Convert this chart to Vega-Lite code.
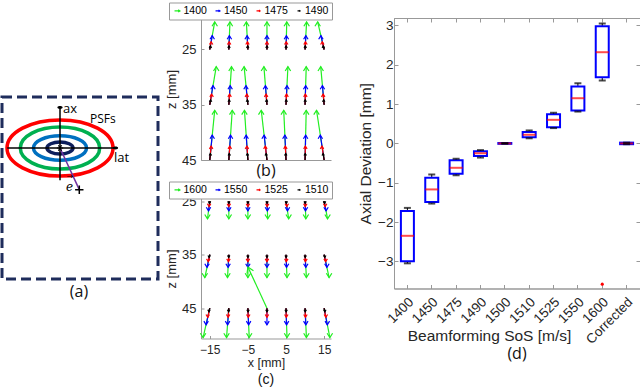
{
  "$schema": "https://vega.github.io/schema/vega-lite/v6.json",
  "padding": {"left": 0, "top": 2, "right": 0, "bottom": 0},
  "background": "white",
  "config": {
    "font": "Liberation Sans",
    "view": {"stroke": null},
    "axis": {"grid": false, "domainColor": "#999999", "tickColor": "#999999", "labelColor": "#262626", "titleColor": "#262626", "titleFontWeight": "normal", "labelFont": "Liberation Sans", "titleFont": "Liberation Sans"},
    "title": {"font": "Open Sans", "fontWeight": "normal", "color": "#111111"}
  },
  "datasets": {
    "vb": [
      {"s":"1400","x":-15,"z":25,"x2":-13.7,"z2":20.0},{"s":"1400","x":-10,"z":25,"x2":-9.7,"z2":20.0},{"s":"1400","x":-5,"z":25,"x2":-5.4,"z2":20.0},{"s":"1400","x":0,"z":25,"x2":0,"z2":20.0},{"s":"1400","x":5,"z":25,"x2":5.2,"z2":20.0},{"s":"1400","x":10,"z":25,"x2":10.4,"z2":20.0},{"s":"1400","x":15,"z":25,"x2":13.3,"z2":20.0},
      {"s":"1400","x":-15,"z":35,"x2":-13.3,"z2":28.1},{"s":"1400","x":-10,"z":35,"x2":-9.3,"z2":28.1},{"s":"1400","x":-5,"z":35,"x2":-6.0,"z2":28.1},{"s":"1400","x":0,"z":35,"x2":-0.8,"z2":28.1},{"s":"1400","x":5,"z":35,"x2":5.5,"z2":28.1},{"s":"1400","x":10,"z":35,"x2":10.3,"z2":28.1},{"s":"1400","x":15,"z":35,"x2":14.1,"z2":28.1},
      {"s":"1400","x":-15,"z":45,"x2":-13.7,"z2":36.0},{"s":"1400","x":-10,"z":45,"x2":-9.1,"z2":36.0},{"s":"1400","x":-5,"z":45,"x2":-5.9,"z2":36.0},{"s":"1400","x":0,"z":45,"x2":-1.5,"z2":36.0},{"s":"1400","x":5,"z":45,"x2":4.4,"z2":36.0},{"s":"1400","x":10,"z":45,"x2":10.3,"z2":36.0},{"s":"1400","x":15,"z":45,"x2":13.0,"z2":36.0},
      {"s":"1450","x":-15,"z":25,"x2":-14.35,"z2":22.5},{"s":"1450","x":-10,"z":25,"x2":-9.85,"z2":22.5},{"s":"1450","x":-5,"z":25,"x2":-5.2,"z2":22.5},{"s":"1450","x":0,"z":25,"x2":0,"z2":22.5},{"s":"1450","x":5,"z":25,"x2":5.1,"z2":22.5},{"s":"1450","x":10,"z":25,"x2":10.2,"z2":22.5},{"s":"1450","x":15,"z":25,"x2":14.15,"z2":22.5},
      {"s":"1450","x":-15,"z":35,"x2":-14.15,"z2":31.55},{"s":"1450","x":-10,"z":35,"x2":-9.65,"z2":31.55},{"s":"1450","x":-5,"z":35,"x2":-5.5,"z2":31.55},{"s":"1450","x":0,"z":35,"x2":-0.4,"z2":31.55},{"s":"1450","x":5,"z":35,"x2":5.25,"z2":31.55},{"s":"1450","x":10,"z":35,"x2":10.15,"z2":31.55},{"s":"1450","x":15,"z":35,"x2":14.55,"z2":31.55},
      {"s":"1450","x":-15,"z":45,"x2":-14.35,"z2":40.5},{"s":"1450","x":-10,"z":45,"x2":-9.55,"z2":40.5},{"s":"1450","x":-5,"z":45,"x2":-5.45,"z2":40.5},{"s":"1450","x":0,"z":45,"x2":-0.75,"z2":40.5},{"s":"1450","x":5,"z":45,"x2":4.7,"z2":40.5},{"s":"1450","x":10,"z":45,"x2":10.15,"z2":40.5},{"s":"1450","x":15,"z":45,"x2":14.0,"z2":40.5},
      {"s":"1475","x":-15,"z":25,"x2":-14.64,"z2":23.6},{"s":"1475","x":-10,"z":25,"x2":-9.92,"z2":23.6},{"s":"1475","x":-5,"z":25,"x2":-5.11,"z2":23.6},{"s":"1475","x":0,"z":25,"x2":0,"z2":23.6},{"s":"1475","x":5,"z":25,"x2":5.06,"z2":23.6},{"s":"1475","x":10,"z":25,"x2":10.11,"z2":23.6},{"s":"1475","x":15,"z":25,"x2":14.52,"z2":23.6},
      {"s":"1475","x":-15,"z":35,"x2":-14.52,"z2":33.07},{"s":"1475","x":-10,"z":35,"x2":-9.8,"z2":33.07},{"s":"1475","x":-5,"z":35,"x2":-5.28,"z2":33.07},{"s":"1475","x":0,"z":35,"x2":-0.22,"z2":33.07},{"s":"1475","x":5,"z":35,"x2":5.14,"z2":33.07},{"s":"1475","x":10,"z":35,"x2":10.08,"z2":33.07},{"s":"1475","x":15,"z":35,"x2":14.75,"z2":33.07},
      {"s":"1475","x":-15,"z":45,"x2":-14.64,"z2":42.48},{"s":"1475","x":-10,"z":45,"x2":-9.75,"z2":42.48},{"s":"1475","x":-5,"z":45,"x2":-5.25,"z2":42.48},{"s":"1475","x":0,"z":45,"x2":-0.42,"z2":42.48},{"s":"1475","x":5,"z":45,"x2":4.83,"z2":42.48},{"s":"1475","x":10,"z":45,"x2":10.08,"z2":42.48},{"s":"1475","x":15,"z":45,"x2":14.44,"z2":42.48},
      {"s":"1490","x":-15,"z":25,"x2":-14.83,"z2":24.35},{"s":"1490","x":-10,"z":25,"x2":-9.96,"z2":24.35},{"s":"1490","x":-5,"z":25,"x2":-5.05,"z2":24.35},{"s":"1490","x":0,"z":25,"x2":0,"z2":24.35},{"s":"1490","x":5,"z":25,"x2":5.03,"z2":24.35},{"s":"1490","x":10,"z":25,"x2":10.05,"z2":24.35},{"s":"1490","x":15,"z":25,"x2":14.78,"z2":24.35},
      {"s":"1490","x":-15,"z":35,"x2":-14.78,"z2":34.1},{"s":"1490","x":-10,"z":35,"x2":-9.91,"z2":34.1},{"s":"1490","x":-5,"z":35,"x2":-5.13,"z2":34.1},{"s":"1490","x":0,"z":35,"x2":-0.1,"z2":34.1},{"s":"1490","x":5,"z":35,"x2":5.07,"z2":34.1},{"s":"1490","x":10,"z":35,"x2":10.04,"z2":34.1},{"s":"1490","x":15,"z":35,"x2":14.88,"z2":34.1},
      {"s":"1490","x":-15,"z":45,"x2":-14.83,"z2":43.83},{"s":"1490","x":-10,"z":45,"x2":-9.88,"z2":43.83},{"s":"1490","x":-5,"z":45,"x2":-5.12,"z2":43.83},{"s":"1490","x":0,"z":45,"x2":-0.2,"z2":43.83},{"s":"1490","x":5,"z":45,"x2":4.92,"z2":43.83},{"s":"1490","x":10,"z":45,"x2":10.04,"z2":43.83},{"s":"1490","x":15,"z":45,"x2":14.74,"z2":43.83}
    ],
    "vc": [
      {"s":"1600","x":-15,"z":25,"x2":-15.6,"z2":28.3},{"s":"1600","x":-10,"z":25,"x2":-10,"z2":28.3},{"s":"1600","x":-5,"z":25,"x2":-5,"z2":28.3},{"s":"1600","x":0,"z":25,"x2":0.2,"z2":28.3},{"s":"1600","x":5,"z":25,"x2":5.7,"z2":28.3},{"s":"1600","x":10,"z":25,"x2":10.2,"z2":28.3},{"s":"1600","x":15,"z":25,"x2":15.9,"z2":28.3},
      {"s":"1600","x":-15,"z":35,"x2":-16.3,"z2":39.3},{"s":"1600","x":-10,"z":35,"x2":-10.35,"z2":39.3},{"s":"1600","x":-5,"z":35,"x2":-5,"z2":39.3},{"s":"1600","x":0,"z":35,"x2":0,"z2":39.3},{"s":"1600","x":5,"z":35,"x2":5.26,"z2":39.3},{"s":"1600","x":10,"z":35,"x2":10.35,"z2":39.3},{"s":"1600","x":15,"z":35,"x2":16.3,"z2":39.3},
      {"s":"1600","x":-15,"z":45,"x2":-16.75,"z2":50.5},{"s":"1600","x":-10,"z":45,"x2":-10.6,"z2":50.5},{"s":"1600","x":-5,"z":45,"x2":-4.65,"z2":50.5},{"s":"1600","x":0,"z":45,"x2":-5.0,"z2":37.3},{"s":"1600","x":5,"z":45,"x2":5.26,"z2":50.5},{"s":"1600","x":10,"z":45,"x2":10.35,"z2":50.5},{"s":"1600","x":15,"z":45,"x2":16.5,"z2":50.5},
      {"s":"1550","x":-15,"z":25,"x2":-15.33,"z2":26.8},{"s":"1550","x":-10,"z":25,"x2":-10,"z2":26.8},{"s":"1550","x":-5,"z":25,"x2":-5,"z2":26.8},{"s":"1550","x":0,"z":25,"x2":0.11,"z2":26.8},{"s":"1550","x":5,"z":25,"x2":5.39,"z2":26.8},{"s":"1550","x":10,"z":25,"x2":10.11,"z2":26.8},{"s":"1550","x":15,"z":25,"x2":15.5,"z2":26.8},
      {"s":"1550","x":-15,"z":35,"x2":-15.72,"z2":37.37},{"s":"1550","x":-10,"z":35,"x2":-10.19,"z2":37.37},{"s":"1550","x":-5,"z":35,"x2":-5,"z2":37.37},{"s":"1550","x":0,"z":35,"x2":0,"z2":37.37},{"s":"1550","x":5,"z":35,"x2":5.14,"z2":37.37},{"s":"1550","x":10,"z":35,"x2":10.19,"z2":37.37},{"s":"1550","x":15,"z":35,"x2":15.72,"z2":37.37},
      {"s":"1550","x":-15,"z":45,"x2":-15.96,"z2":48.1},{"s":"1550","x":-10,"z":45,"x2":-10.33,"z2":48.1},{"s":"1550","x":-5,"z":45,"x2":-4.81,"z2":48.1},{"s":"1550","x":0,"z":45,"x2":0,"z2":48.1},{"s":"1550","x":5,"z":45,"x2":5.14,"z2":48.1},{"s":"1550","x":10,"z":45,"x2":10.19,"z2":48.1},{"s":"1550","x":15,"z":45,"x2":15.83,"z2":48.1},
      {"s":"1525","x":-15,"z":25,"x2":-15.18,"z2":26.0},{"s":"1525","x":-10,"z":25,"x2":-10,"z2":26.0},{"s":"1525","x":-5,"z":25,"x2":-5,"z2":26.0},{"s":"1525","x":0,"z":25,"x2":0.06,"z2":26.0},{"s":"1525","x":5,"z":25,"x2":5.21,"z2":26.0},{"s":"1525","x":10,"z":25,"x2":10.06,"z2":26.0},{"s":"1525","x":15,"z":25,"x2":15.27,"z2":26.0},
      {"s":"1525","x":-15,"z":35,"x2":-15.39,"z2":36.3},{"s":"1525","x":-10,"z":35,"x2":-10.1,"z2":36.3},{"s":"1525","x":-5,"z":35,"x2":-5,"z2":36.3},{"s":"1525","x":0,"z":35,"x2":0,"z2":36.3},{"s":"1525","x":5,"z":35,"x2":5.08,"z2":36.3},{"s":"1525","x":10,"z":35,"x2":10.1,"z2":36.3},{"s":"1525","x":15,"z":35,"x2":15.39,"z2":36.3},
      {"s":"1525","x":-15,"z":45,"x2":-15.53,"z2":46.7},{"s":"1525","x":-10,"z":45,"x2":-10.18,"z2":46.7},{"s":"1525","x":-5,"z":45,"x2":-4.9,"z2":46.7},{"s":"1525","x":0,"z":45,"x2":0,"z2":46.7},{"s":"1525","x":5,"z":45,"x2":5.08,"z2":46.7},{"s":"1525","x":10,"z":45,"x2":10.1,"z2":46.7},{"s":"1525","x":15,"z":45,"x2":15.45,"z2":46.7},
      {"s":"1510","x":-15,"z":25,"x2":-15.07,"z2":25.4},{"s":"1510","x":-10,"z":25,"x2":-10,"z2":25.4},{"s":"1510","x":-5,"z":25,"x2":-5,"z2":25.4},{"s":"1510","x":0,"z":25,"x2":0.02,"z2":25.4},{"s":"1510","x":5,"z":25,"x2":5.08,"z2":25.4},{"s":"1510","x":10,"z":25,"x2":10.02,"z2":25.4},{"s":"1510","x":15,"z":25,"x2":15.11,"z2":25.4},
      {"s":"1510","x":-15,"z":35,"x2":-15.16,"z2":35.52},{"s":"1510","x":-10,"z":35,"x2":-10.04,"z2":35.52},{"s":"1510","x":-5,"z":35,"x2":-5,"z2":35.52},{"s":"1510","x":0,"z":35,"x2":0,"z2":35.52},{"s":"1510","x":5,"z":35,"x2":5.03,"z2":35.52},{"s":"1510","x":10,"z":35,"x2":10.04,"z2":35.52},{"s":"1510","x":15,"z":35,"x2":15.16,"z2":35.52},
      {"s":"1510","x":-15,"z":45,"x2":-15.21,"z2":45.67},{"s":"1510","x":-10,"z":45,"x2":-10.07,"z2":45.67},{"s":"1510","x":-5,"z":45,"x2":-4.96,"z2":45.67},{"s":"1510","x":0,"z":45,"x2":0,"z2":45.67},{"s":"1510","x":5,"z":45,"x2":5.03,"z2":45.67},{"s":"1510","x":10,"z":45,"x2":10.04,"z2":45.67},{"s":"1510","x":15,"z":45,"x2":15.18,"z2":45.67}
    ],
    "box": [
      {"sos":"1400","lo":-3.05,"q1":-3.0,"med":-2.35,"q3":-1.72,"hi":-1.64},
      {"sos":"1450","lo":-1.53,"q1":-1.49,"med":-1.17,"q3":-0.875,"hi":-0.79},
      {"sos":"1475","lo":-0.81,"q1":-0.77,"med":-0.62,"q3":-0.43,"hi":-0.39},
      {"sos":"1490","lo":-0.36,"q1":-0.32,"med":-0.25,"q3":-0.2,"hi":-0.17},
      {"sos":"1500","lo":-0.01,"q1":-0.01,"med":0,"q3":0.01,"hi":0.01},
      {"sos":"1510","lo":0.13,"q1":0.16,"med":0.22,"q3":0.29,"hi":0.33},
      {"sos":"1525","lo":0.39,"q1":0.41,"med":0.6,"q3":0.74,"hi":0.78},
      {"sos":"1550","lo":0.81,"q1":0.84,"med":1.15,"q3":1.45,"hi":1.53},
      {"sos":"1600","lo":1.6,"q1":1.68,"med":2.32,"q3":2.98,"hi":3.05},
      {"sos":"Corrected","lo":-0.02,"q1":-0.02,"med":0,"q3":0.02,"hi":0.02}
    ]
  },
  "resolve": {"scale": {"color": "independent", "size": "independent", "shape": "independent", "stroke": "independent"}},
  "spacing": 5,
  "hconcat": [
    {
      "width": 160,
      "height": 370,
      "encoding": {
        "x": {"field": "x", "type": "quantitative", "scale": {"domain": [-60, 100], "nice": false, "zero": false}, "axis": null},
        "y": {"field": "y", "type": "quantitative", "scale": {"domain": [-240, 130], "nice": false, "zero": false}, "axis": null}
      },
      "layer": [
        {
          "data": {"values": [{"x": -58, "x2": 98, "y": 51, "y2": -131}]},
          "mark": {"type": "rect", "filled": false, "stroke": "#1f2d5c", "strokeWidth": 3, "strokeDash": [10, 5]},
          "encoding": {"x2": {"field": "x2"}, "y2": {"field": "y2"}}
        },
        {
          "data": {"values": [{"ring": "r", "x": 0, "y": 0}, {"ring": "g", "x": 0, "y": 0}, {"ring": "b", "x": 0, "y": 0}, {"ring": "n", "x": 0, "y": 0}]},
          "mark": {"type": "point", "filled": false, "strokeWidth": 3.5, "opacity": 1},
          "encoding": {
            "shape": {"field": "ring", "type": "nominal", "legend": null, "scale": {"domain": ["r", "g", "b", "n"], "range": [
              "M-1,0C-1,-0.2927,-0.5523,-0.53,0,-0.53C0.5523,-0.53,1,-0.2927,1,0C1,0.2927,0.5523,0.53,0,0.53C-0.5523,0.53,-1,0.2927,-1,0Z",
              "M-1,0C-1,-0.2927,-0.5523,-0.53,0,-0.53C0.5523,-0.53,1,-0.2927,1,0C1,0.2927,0.5523,0.53,0,0.53C-0.5523,0.53,-1,0.2927,-1,0Z",
              "M-1,0C-1,-0.254,-0.5523,-0.46,0,-0.46C0.5523,-0.46,1,-0.254,1,0C1,0.254,0.5523,0.46,0,0.46C-0.5523,0.46,-1,0.254,-1,0Z",
              "M-1,0C-1,-0.254,-0.5523,-0.46,0,-0.46C0.5523,-0.46,1,-0.254,1,0C1,0.254,0.5523,0.46,0,0.46C-0.5523,0.46,-1,0.254,-1,0Z"]}},
            "size": {"field": "ring", "type": "nominal", "legend": null, "scale": {"type": "ordinal", "domain": ["r", "g", "b", "n"], "range": [11236, 6304, 2809, 676]}},
            "stroke": {"field": "ring", "type": "nominal", "legend": null, "scale": {"domain": ["r", "g", "b", "n"], "range": ["#ff0000", "#00b050", "#0070c0", "#0d1f5c"]}}
          }
        },
        {
          "data": {"values": [{"x": -52.7, "x2": 55, "y": 0, "y2": 0}, {"x": 0, "x2": 0, "y": -32.3, "y2": 40}]},
          "mark": {"type": "rule", "color": "#000000", "strokeWidth": 1.5},
          "encoding": {"x2": {"field": "x2"}, "y2": {"field": "y2"}}
        },
        {
          "data": {"values": [{"d": "right", "x": 55.5, "y": 0}, {"d": "up", "x": 0, "y": 40.5}]},
          "mark": {"type": "point", "filled": true, "color": "#000000", "size": 28, "opacity": 1},
          "encoding": {"shape": {"field": "d", "type": "nominal", "legend": null, "scale": {"domain": ["right", "up"], "range": ["triangle-right", "triangle-up"]}}}
        },
        {
          "data": {"values": [{"x": 0, "x2": 19.3, "y": 0, "y2": -41.6}]},
          "mark": {"type": "rule", "color": "#7030a0", "strokeWidth": 1.5},
          "encoding": {"x2": {"field": "x2"}, "y2": {"field": "y2"}}
        },
        {
          "data": {"values": [{"x": 19.3, "y": -41.8}]},
          "mark": {"type": "point", "shape": "M-1,0L1,0M0,-1L0,1", "filled": false, "color": "#000000", "size": 70, "strokeWidth": 1.5, "opacity": 1}
        },
        {
          "data": {"values": [{"x": 0, "y": 0}]},
          "mark": {"type": "point", "shape": "M-1,0L1,0M-0.5,-0.87L0.5,0.87M-0.5,0.87L0.5,-0.87", "filled": false, "color": "#000000", "size": 40, "strokeWidth": 1.2, "opacity": 1}
        },
        {
          "data": {"values": [{"x": 3, "y": 39.4, "t": "ax"}, {"x": 54, "y": -9.8, "t": "lat"}]},
          "mark": {"type": "text", "align": "left", "baseline": "middle", "font": "Open Sans", "fontSize": 13, "color": "#000000"},
          "encoding": {"text": {"field": "t"}}
        },
        {
          "data": {"values": [{"x": 30, "y": 29, "t": "PSFs"}]},
          "mark": {"type": "text", "align": "left", "baseline": "middle", "font": "Open Sans", "fontSize": 12, "color": "#000000"},
          "encoding": {"text": {"field": "t"}}
        },
        {
          "data": {"values": [{"x": 9.5, "y": -39, "t": "e"}]},
          "mark": {"type": "text", "align": "center", "baseline": "middle", "font": "DejaVu Serif", "fontStyle": "italic", "fontSize": 12, "color": "#000000"},
          "encoding": {"text": {"field": "t"}}
        },
        {
          "data": {"values": [{"x": 10, "y": -28.5, "t": "→"}]},
          "mark": {"type": "text", "align": "center", "baseline": "middle", "font": "DejaVu Sans", "fontSize": 8, "color": "#000000"},
          "encoding": {"text": {"field": "t"}}
        },
        {
          "data": {"values": [{"x": 19, "y": -144, "t": "(a)"}]},
          "mark": {"type": "text", "align": "center", "baseline": "middle", "font": "Open Sans", "fontSize": 16, "color": "#111111"},
          "encoding": {"text": {"field": "t"}}
        }
      ]
    },
    {
      "spacing": 23,
      "resolve": {"scale": {"color": "independent", "size": "independent"}},
      "hconcat": [
        {
          "spacing": 1.5,
          "resolve": {"scale": {"color": "independent", "size": "independent"}},
          "vconcat": [
            {
              "width": 130,
              "height": 142,
              "title": {"text": "(b)", "orient": "bottom", "fontSize": 16, "offset": -4},
              "data": {"name": "vb"},
              "layer": [
                {
                  "mark": {"type": "rule", "strokeWidth": 1.2},
                  "encoding": {
                    "x": {"field": "x", "type": "quantitative", "scale": {"domain": [-17.3, 16.8], "nice": false, "zero": false}, "axis": {"labels": false, "ticks": false, "title": null}},
                    "x2": {"field": "x2"},
                    "y": {"field": "z", "type": "quantitative", "scale": {"domain": [19.3, 45], "reverse": true, "nice": false, "zero": false}, "axis": {"values": [25, 35, 45], "title": "z [mm]", "titleFontSize": 13, "titlePadding": 3, "labelFontSize": 13, "tickSize": -3, "labelPadding": 8}},
                    "y2": {"field": "z2"},
                    "color": {"field": "s", "type": "nominal", "scale": {"domain": ["1400", "1450", "1475", "1490"], "range": ["#22ee22", "#0000ff", "#ff0000", "#000000"]},
                      "legend": {"orient": "none", "legendX": -32, "legendY": -15.5, "direction": "horizontal", "columns": 4, "title": null, "symbolType": "M-1,0L1,0M0.35,-0.45L1,0L0.35,0.45", "symbolSize": 169, "symbolStrokeWidth": 1.2, "labelFontSize": 10.5, "labelOffset": 1, "columnPadding": 5.5, "padding": 3, "strokeColor": "#999999", "fillColor": "white", "labelColor": "#000000", "labelFont": "Liberation Sans"}}
                  }
                },
                {
                  "mark": {"type": "point", "shape": "M-1,1.6L0,0L1,1.6", "filled": false, "strokeWidth": 1.2, "opacity": 1},
                  "encoding": {
                    "x": {"field": "x2", "type": "quantitative"},
                    "y": {"field": "z2", "type": "quantitative"},
                    "color": {"field": "s", "type": "nominal"},
                    "size": {"field": "s", "type": "nominal", "legend": null, "scale": {"type": "ordinal", "domain": ["1400", "1450", "1475", "1490"], "range": [30, 20, 12, 6]}}
                  }
                }
              ]
            },
            {
              "width": 130,
              "height": 140,
              "title": {"text": "(c)", "orient": "bottom", "fontSize": 14, "offset": 4, "font": "Liberation Sans"},
              "data": {"name": "vc"},
              "layer": [
                {
                  "mark": {"type": "rule", "strokeWidth": 1.2},
                  "encoding": {
                    "x": {"field": "x", "type": "quantitative", "scale": {"domain": [-17.3, 16.8], "nice": false, "zero": false}, "axis": {"values": [-15, -10, -5, 0, 5, 10, 15], "title": "x [mm]", "titleFontSize": 12.5, "titlePadding": 1, "labelFontSize": 12, "tickSize": -3, "labelPadding": 9}},
                    "x2": {"field": "x2"},
                    "y": {"field": "z", "type": "quantitative", "scale": {"domain": [24.5, 50.67], "reverse": true, "nice": false, "zero": false}, "axis": {"values": [25, 35, 45], "title": "z [mm]", "titleFontSize": 13, "titlePadding": 3, "labelFontSize": 13, "tickSize": -3, "labelPadding": 8}},
                    "y2": {"field": "z2"},
                    "color": {"field": "s", "type": "nominal", "scale": {"domain": ["1600", "1550", "1525", "1510"], "range": ["#22ee22", "#0000ff", "#ff0000", "#000000"]},
                      "legend": {"orient": "none", "legendX": -32, "legendY": -17, "direction": "horizontal", "columns": 4, "title": null, "symbolType": "M-1,0L1,0M0.35,-0.45L1,0L0.35,0.45", "symbolSize": 169, "symbolStrokeWidth": 1.2, "labelFontSize": 10.5, "labelOffset": 1, "columnPadding": 5.5, "padding": 3, "strokeColor": "#999999", "fillColor": "white", "labelColor": "#000000", "labelFont": "Liberation Sans"}}
                  }
                },
                {
                  "transform": [{"filter": "datum.z2 > datum.z"}],
                  "mark": {"type": "point", "shape": "M-1,-1.6L0,0L1,-1.6", "filled": false, "strokeWidth": 1.2, "opacity": 1},
                  "encoding": {
                    "x": {"field": "x2", "type": "quantitative"},
                    "y": {"field": "z2", "type": "quantitative"},
                    "color": {"field": "s", "type": "nominal"},
                    "size": {"field": "s", "type": "nominal", "legend": null, "scale": {"type": "ordinal", "domain": ["1600", "1550", "1525", "1510"], "range": [30, 20, 12, 6]}}
                  }
                },
                {
                  "transform": [{"filter": "datum.z2 < datum.z"}],
                  "mark": {"type": "point", "shape": "M1.58,1.04L0,0L-0.24,1.88", "filled": false, "strokeWidth": 1.2, "size": 50, "opacity": 1},
                  "encoding": {
                    "x": {"field": "x2", "type": "quantitative"},
                    "y": {"field": "z2", "type": "quantitative"},
                    "color": {"field": "s", "type": "nominal"}
                  }
                }
              ]
            }
          ]
        },
        {
          "width": 246,
          "height": 270.5,
          "view": {"stroke": "#999999", "strokeWidth": 1},
          "title": {"text": "(d)", "orient": "bottom", "fontSize": 16, "offset": 0},
          "data": {"name": "box"},
          "resolve": {"axis": {"x": "independent", "y": "independent"}},
          "layer": [
            {
              "mark": {"type": "rule", "color": "#000000", "strokeWidth": 1},
              "encoding": {
                "x": {"field": "sos", "type": "nominal", "sort": null, "scale": {"paddingInner": 0, "paddingOuter": 0.05}, "axis": {"orient": "bottom", "labelAngle": -45, "labelAlign": "right", "labelBaseline": "middle", "labelOffset": 4, "labelFontSize": 13.5, "title": "Beamforming SoS [m/s]", "titleFontSize": 15.5, "titleX": 95, "tickSize": -4, "labelPadding": 15, "titlePadding": 2, "maxExtent": 38}},
                "y": {"field": "lo", "type": "quantitative", "scale": {"domain": [-3.69, 3.19], "nice": false, "zero": false}, "axis": {"values": [-3, -2, -1, 0, 1, 2, 3], "title": "Axial Deviation [mm]", "titleFontSize": 15.5, "labelFontSize": 13.5, "tickSize": -4, "labelPadding": 5, "titlePadding": 4}},
                "y2": {"field": "hi"}
              }
            },
            {
              "mark": {"type": "bar", "fill": "white", "stroke": "#0000ff", "strokeWidth": 2, "width": 13},
              "encoding": {
                "x": {"field": "sos", "type": "nominal", "sort": null, "axis": {"orient": "top", "labels": false, "tickSize": -4, "title": "x", "titleColor": "white", "titleFontSize": 10, "titlePadding": 4.5}},
                "y": {"field": "q1", "type": "quantitative", "axis": {"orient": "right", "labels": false, "tickSize": -4, "title": null, "values": [-3, -2, -1, 0, 1, 2, 3]}},
                "y2": {"field": "q3"}
              }
            },
            {
              "mark": {"type": "tick", "color": "#ff0000", "size": 13, "thickness": 2},
              "encoding": {
                "x": {"field": "sos", "type": "nominal", "sort": null, "axis": null},
                "y": {"field": "med", "type": "quantitative", "axis": null}
              }
            },
            {
              "mark": {"type": "tick", "color": "#000000", "size": 7, "thickness": 2},
              "encoding": {
                "x": {"field": "sos", "type": "nominal", "sort": null, "axis": null},
                "y": {"field": "lo", "type": "quantitative", "axis": null}
              }
            },
            {
              "mark": {"type": "tick", "color": "#000000", "size": 7, "thickness": 2},
              "encoding": {
                "x": {"field": "sos", "type": "nominal", "sort": null, "axis": null},
                "y": {"field": "hi", "type": "quantitative", "axis": null}
              }
            },
            {
              "data": {"values": [{"sos": "1600", "v": -3.58}]},
              "mark": {"type": "point", "filled": true, "color": "#ff0000", "size": 10, "opacity": 1},
              "encoding": {
                "x": {"field": "sos", "type": "nominal", "sort": null, "axis": null},
                "y": {"field": "v", "type": "quantitative", "axis": null}
              }
            }
          ]
        }
      ]
    }
  ]
}
